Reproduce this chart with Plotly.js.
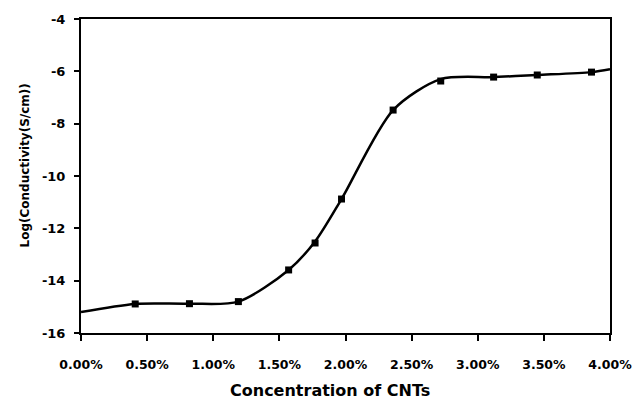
<!DOCTYPE html>
<html>
<head>
<meta charset="utf-8">
<script src="https://cdn.plot.ly/plotly-3.0.1.min.js"></script>
<style>html,body{margin:0;padding:0;background:#fff;}#chart{width:635px;height:399px;}</style>
</head>
<body>
<div id="chart"></div>
<script>
// Measured points (concentration in %, log conductivity)
const markerX = [0.41, 0.82, 1.19, 1.57, 1.77, 1.97, 2.36, 2.72, 3.12, 3.45, 3.86];
const markerY = [-14.89, -14.88, -14.80, -13.59, -12.56, -10.88, -7.48, -6.37, -6.22, -6.14, -6.03];
// Smoothed trend curve
const curveX = [0.00, 0.41, 0.82, 1.19, 1.57, 1.77, 1.97, 2.36, 2.72, 3.12, 3.45, 3.86, 4.00];
const curveY = [-15.20, -14.89, -14.88, -14.80, -13.59, -12.50, -10.88, -7.48, -6.30, -6.22, -6.14, -6.03, -5.92];
const xTickVals = [0, 0.5, 1, 1.5, 2, 2.5, 3, 3.5, 4];
const xTickText = ["0.00%", "0.50%", "1.00%", "1.50%", "2.00%", "2.50%", "3.00%", "3.50%", "4.00%"];
const yTickVals = [-16, -14, -12, -10, -8, -6, -4];
const yTickText = ["-16", "-14", "-12", "-10", "-8", "-6", "-4"];
const xTitle = "Concentration of CNTs";
const yTitle = "Log(Conductivity(S/cm))";

const bold = s => "<b>" + s + "</b>";

const traces = [
  {x: curveX, y: curveY, mode: "lines", line: {color: "#000", width: 2.5, shape: "spline", smoothing: 0.8}, hoverinfo: "skip"},
  {x: markerX, y: markerY, mode: "markers", marker: {symbol: "square", size: 7, color: "#000"}}
];

const layout = {
  width: 635, height: 399,
  margin: {l: 81, r: 25, t: 19, b: 66},
  paper_bgcolor: "#fff", plot_bgcolor: "#fff",
  showlegend: false,
  font: {family: "DejaVu Sans", size: 12, color: "#000"},
  xaxis: {
    range: [0, 4], tickvals: xTickVals, ticktext: xTickText.map(bold),
    showgrid: false, zeroline: false,
    showline: true, linecolor: "#000", linewidth: 2, mirror: true,
    ticks: "outside", ticklen: 6, tickwidth: 2, tickcolor: "#000",
    tickfont: {family: "DejaVu Sans", size: 12.5, color: "#000"},
    ticklabelstandoff: 13
  },
  yaxis: {
    range: [-16, -4], tickvals: yTickVals, ticktext: yTickText.map(bold),
    showgrid: false, zeroline: false,
    showline: true, linecolor: "#000", linewidth: 2, mirror: true,
    ticks: "outside", ticklen: 5, tickwidth: 2, tickcolor: "#000",
    tickfont: {family: "DejaVu Sans", size: 13, color: "#000"},
    ticklabelstandoff: 6
  },
  annotations: [{
    text: bold(yTitle), textangle: -90, showarrow: false,
    xref: "paper", yref: "paper", x: -0.105, y: 0.535,
    xanchor: "center", yanchor: "middle",
    font: {family: "DejaVu Sans", size: 12, color: "#000"}
  }, {
    text: bold(xTitle), showarrow: false,
    xref: "paper", yref: "paper", x: 0.47, y: -0.182,
    xanchor: "center", yanchor: "middle",
    font: {family: "DejaVu Sans", size: 16, color: "#000"}
  }]
};

Plotly.newPlot("chart", traces, layout, {displayModeBar: false, staticPlot: true});
</script>
</body>
</html>
